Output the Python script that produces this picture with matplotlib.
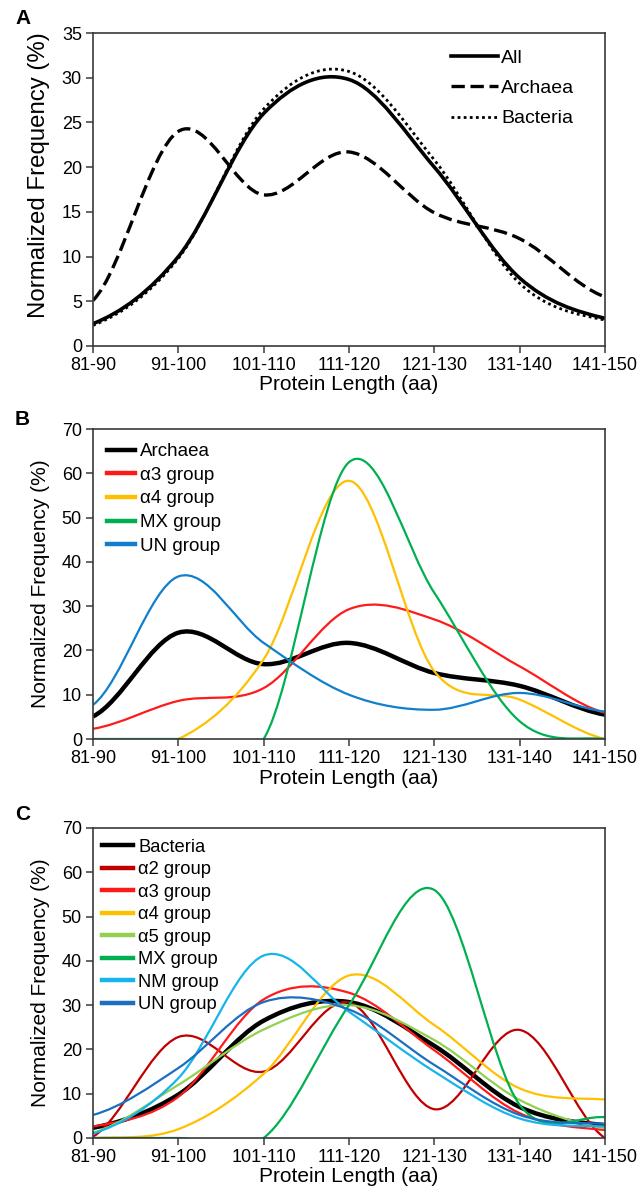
import matplotlib
matplotlib.use("Agg")
import matplotlib.pyplot as plt
import numpy as np
from matplotlib.lines import Line2D
from matplotlib.patches import PathPatch
from matplotlib.path import Path

plt.rcParams["font.family"] = ["Liberation Sans", "DejaVu Sans"]

# protein length bins (aa)
categories = ["81-90", "91-100", "101-110", "111-120", "121-130", "131-140", "141-150"]

# normalized frequency (%)
all_seq = [2.5, 10.0, 26.0, 29.8, 20.0, 7.6, 3.1]
archaea = [5.1, 24.0, 16.9, 21.7, 14.9, 12.0, 5.5]
bacteria = [2.3, 9.8, 26.5, 30.7, 20.8, 7.0, 2.9]

# panel B: archaeal groups
arc_a3 = [2.3, 8.6, 11.5, 29.3, 27.0, 16.4, 5.9]
arc_a4 = [0.0, 0.0, 18.0, 58.3, 15.3, 8.9, 0.0]
arc_mx = [0.0, 0.0, 0.0, 62.5, 33.0, 4.0, 0.0]
arc_un = [7.7, 36.7, 21.7, 10.0, 6.6, 10.4, 6.2]

# panel C: bacterial groups
bac_a2 = [0.3, 22.8, 15.0, 30.6, 6.5, 24.4, 0.0]
bac_a3 = [2.6, 9.3, 31.3, 32.8, 19.8, 5.6, 1.8]
bac_a4 = [0.0, 2.0, 14.5, 36.7, 25.5, 11.2, 8.7]
bac_a5 = [1.2, 12.0, 24.5, 30.0, 22.1, 8.6, 2.2]
bac_mx = [0.0, 0.0, 0.0, 30.0, 56.0, 7.5, 4.7]
bac_nm = [1.0, 13.5, 41.2, 28.5, 15.0, 4.4, 2.6]
bac_un = [5.2, 15.8, 30.7, 29.0, 16.5, 5.2, 3.2]

W, H = 640, 1191
SPINE = "#3a3a3a"


def smooth_path(ax, xs, ys):
    """Bezier path through the points, close to Excel's smoothed line."""
    pts = np.column_stack([xs, ys]).astype(float)
    # flat virtual neighbours at both ends so the curve eases in/out
    ext = np.vstack([pts[0] - [1, 0], pts, pts[-1] + [1, 0]])
    pix = ax.transData.transform(ext)
    n = len(pts)
    verts = [tuple(pts[0])]
    for i in range(1, n):
        p0, p1, p2, p3 = ext[i - 1], ext[i], ext[i + 1], ext[i + 2]
        q0, q1, q2, q3 = pix[i - 1], pix[i], pix[i + 1], pix[i + 2]
        d12 = np.hypot(*(q2 - q1))
        d02 = np.hypot(*(q2 - q0))
        d13 = np.hypot(*(q3 - q1))
        f1 = 1 / 6 if d02 / 6 < d12 / 2 else d12 / 2 / d02
        f2 = 1 / 6 if d13 / 6 < d12 / 2 else d12 / 2 / d13
        c1 = p1 + (p2 - p0) * f1
        c2 = p2 - (p3 - p1) * f2
        verts += [tuple(c1), tuple(c2), tuple(p2)]
    codes = [Path.MOVETO] + [Path.CURVE4] * (3 * (n - 1))
    return Path(verts, codes)


def make_axes(fig, top, bottom, ymax, letter, letter_y, ylab_size=15, ylab_y=0.5):
    left, right = 93, 605
    ax = fig.add_axes([left / W, 1 - bottom / H, (right - left) / W, (bottom - top) / H])
    x = np.arange(len(categories))
    ax.set_xlim(0, len(categories) - 1)
    ax.set_ylim(0, ymax)
    ax.set_xticks(x, categories)
    ax.set_yticks(np.arange(0, ymax + 1, 5 if ymax < 50 else 10))
    ax.tick_params(direction="out", length=5, width=1.1, color=SPINE, labelsize=13, pad=3)
    for sp in ax.spines.values():
        sp.set_color(SPINE)
        sp.set_linewidth(1.2)
    ax.set_xlabel("Protein Length (aa)", fontsize=15, labelpad=1)
    ax.set_ylabel("Normalized Frequency (%)", fontsize=ylab_size)
    ax.yaxis.set_label_coords(-0.084, ylab_y)
    fig.text(15 / W, 1 - letter_y / H, letter, fontsize=15, fontweight="bold", va="center")
    return ax


def draw(ax, ys, color, lw, ls="-"):
    x = np.arange(len(ys))
    patch = PathPatch(smooth_path(ax, x, ys), facecolor="none", edgecolor=color,
                      linewidth=lw, linestyle=ls, capstyle="butt")
    ax.add_patch(patch)


fig = plt.figure(figsize=(W / 100, H / 100), dpi=100)

# --- A ---
ax = make_axes(fig, 33, 346, 35, "A", 19, ylab_size=17.3, ylab_y=0.545)
dash = (0, (4, 1.7))
dots = (0, (1, 1.2))
draw(ax, bacteria, "black", 2.0, dots)
draw(ax, archaea, "black", 2.4, dash)
draw(ax, all_seq, "black", 2.6)
hA = [Line2D([], [], color="black", lw=2.6, label="All"),
      Line2D([], [], color="black", lw=2.4, ls=dash, label="Archaea"),
      Line2D([], [], color="black", lw=2.0, ls=dots, label="Bacteria")]
ax.legend(handles=hA, loc="upper left", bbox_to_anchor=(0.70, 0.948), frameon=False,
          fontsize=14, handlelength=2.4, handletextpad=0.15, labelspacing=0.65,
          borderpad=0, borderaxespad=0)

# --- B ---
ax = make_axes(fig, 429, 739, 70, "B", 420)
groups_b = [("Archaea", archaea, "black", 3.2),
            ("\u03b13 group", arc_a3, "#ff1a1a", 1.6),
            ("\u03b14 group", arc_a4, "#ffc000", 1.6),
            ("MX group", arc_mx, "#00b050", 1.6),
            ("UN group", arc_un, "#0f7fce", 1.6)]
hB = []
for label, ys, color, lw in groups_b:
    draw(ax, ys, color, lw)
    hB.append(Line2D([], [], color=color, lw=3.2, label=label))
ax.legend(handles=hB, loc="upper left", bbox_to_anchor=(0.028, 0.955), frameon=False,
          fontsize=13.5, handlelength=1.45, handletextpad=0.3, labelspacing=0.35,
          borderpad=0, borderaxespad=0)

# --- C ---
ax = make_axes(fig, 828, 1138, 70, "C", 815)
groups_c = [("Bacteria", bacteria, "black", 3.2),
            ("\u03b12 group", bac_a2, "#c00000", 1.6),
            ("\u03b13 group", bac_a3, "#ff1a1a", 1.6),
            ("\u03b14 group", bac_a4, "#ffc000", 1.6),
            ("\u03b15 group", bac_a5, "#92d050", 1.6),
            ("MX group", bac_mx, "#00b050", 1.6),
            ("NM group", bac_nm, "#16b4ec", 1.6),
            ("UN group", bac_un, "#1a6fc0", 1.6)]
hC = []
for label, ys, color, lw in groups_c:
    draw(ax, ys, color, lw)
    hC.append(Line2D([], [], color=color, lw=3.2, label=label))
ax.legend(handles=hC, loc="upper left", bbox_to_anchor=(0.017, 0.965), frameon=False,
          fontsize=13.2, handlelength=1.7, handletextpad=0.3, labelspacing=0.3,
          borderpad=0, borderaxespad=0)

fig.savefig("out.png", dpi=100)
